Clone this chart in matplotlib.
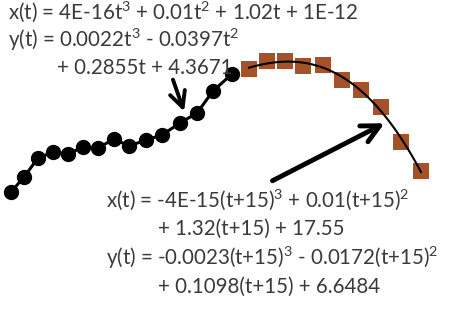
import numpy as np
import matplotlib.pyplot as plt

plt.rcParams['mathtext.fontset'] = 'custom'
plt.rcParams['mathtext.rm'] = 'Lato'
plt.rcParams['mathtext.it'] = 'Lato'
plt.rcParams['mathtext.default'] = 'regular'

# black dots (pixel coords, y down)
dots_x = [11, 24, 38, 53, 68, 83, 98, 114, 129, 146, 162, 180, 197, 213, 232]
dots_y = [192, 177, 158, 152, 154, 147, 148, 139, 146, 140, 135, 123, 113, 91, 74]

# brown squares
sq_x = [249, 267, 285, 303, 323, 342, 361, 381, 401, 421]
sq_y = [69, 61, 61, 66, 65, 80, 90, 107, 142, 171]

top_lines = [r"x(t) = 4E-16t$^{3}$ + 0.01t$^{2}$ + 1.02t + 1E-12",
             r"y(t) = 0.0022t$^{3}$ - 0.0397t$^{2}$",
             "+ 0.2855t + 4.3671"]
bottom_lines = [r"x(t) = -4E-15(t+15)$^{3}$ + 0.01(t+15)$^{2}$",
                "+ 1.32(t+15) + 17.55",
                r"y(t) = -0.0023(t+15)$^{3}$ - 0.0172(t+15)$^{2}$",
                "+ 0.1098(t+15) + 6.6484"]

fig = plt.figure(figsize=(4.51, 3.10), dpi=100)
ax = fig.add_axes([0, 0, 1, 1])
ax.set_xlim(0, 451)
ax.set_ylim(310, 0)
ax.axis('off')

ax.plot(dots_x, dots_y, color='black', lw=2.2, marker='o', ms=10, zorder=3)

# cubic fit through the squares
t = np.arange(len(sq_x))
px = np.polyfit(t, sq_x, 3)
py = np.polyfit(t, sq_y, 3)
tt = np.linspace(0, len(sq_x) - 1, 200)
ax.scatter(sq_x, sq_y, marker='s', s=130, color='#A5522A', zorder=2, linewidths=0)
ax.plot(np.polyval(px, tt), np.polyval(py, tt), color='black', lw=1.5, zorder=4)

ax.annotate('', xy=(185, 114), xytext=(172, 77),
            arrowprops=dict(arrowstyle='->', lw=2.8, color='black',
                            mutation_scale=28), zorder=5)
ax.annotate('', xy=(387, 122), xytext=(270, 182),
            arrowprops=dict(arrowstyle='->', lw=3.5, color='black',
                            mutation_scale=32), zorder=5)

fs = 14.8
kw = dict(fontsize=fs, family='Lato', va='center', color='#3a3a3a')
ax.text(8, 12, top_lines[0], **kw)
ax.text(8, 40, top_lines[1], **kw)
ax.text(57, 68, top_lines[2], **kw)

ax.text(106, 200, bottom_lines[0], **kw)
ax.text(158, 229, bottom_lines[1], **kw)
ax.text(106, 258, bottom_lines[2], **kw)
ax.text(158, 287, bottom_lines[3], **kw)

fig.savefig('out.png', dpi=100)
